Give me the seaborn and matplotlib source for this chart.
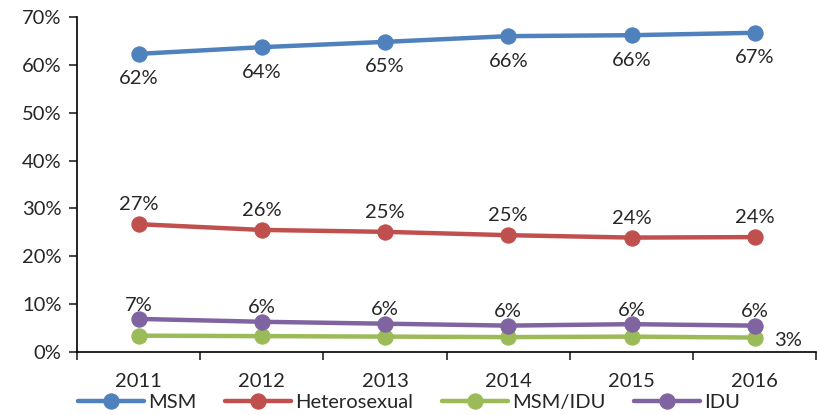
import numpy as np
import pandas as pd
import seaborn as sns
import matplotlib.pyplot as plt
from matplotlib.ticker import FuncFormatter

sns.set_style("white")
plt.rcParams['font.family'] = ['Lato', 'DejaVu Sans']

years = ["2011", "2012", "2013", "2014", "2015", "2016"]
msm = [62.3, 63.7, 64.8, 66.0, 66.2, 66.7]
hetero = [26.7, 25.5, 25.1, 24.4, 23.9, 24.0]
msm_idu = [3.4, 3.3, 3.2, 3.1, 3.2, 3.0]
idu = [6.9, 6.3, 5.9, 5.5, 5.8, 5.5]

labels_msm = ["62%", "64%", "65%", "66%", "66%", "67%"]
labels_het = ["27%", "26%", "25%", "25%", "24%", "24%"]
labels_idu = ["7%", "6%", "6%", "6%", "6%", "6%"]

series = [("MSM", msm, "#4F81BD"),
          ("Heterosexual", hetero, "#C0504D"),
          ("MSM/IDU", msm_idu, "#9BBB59"),
          ("IDU", idu, "#8064A2")]

fig = plt.figure(figsize=(8.17, 4.15), dpi=100)
ax = fig.add_axes([0.0942, 0.152, 0.905, 0.807])

x = np.arange(len(years))
for name, vals, col in series:
    sns.lineplot(x=x, y=vals, ax=ax, color=col, linewidth=3.2, marker="o",
                 markersize=11, markeredgecolor=col, label=name)

fs = 14.5
for i in x:
    ax.annotate(labels_msm[i], (i, msm[i]), xytext=(0, -18), textcoords="offset points",
                ha="center", va="center", fontsize=fs)
    ax.annotate(labels_het[i], (i, hetero[i]), xytext=(0, 14), textcoords="offset points",
                ha="center", va="center", fontsize=fs)
    ax.annotate(labels_idu[i], (i, idu[i]), xytext=(0, 10), textcoords="offset points",
                ha="center", va="center", fontsize=fs)
ax.annotate("3%", (5, msm_idu[5]), xytext=(24, -2), textcoords="offset points",
            ha="center", va="center", fontsize=fs)

ax.set_xlim(-0.5, 5.5)
ax.set_ylim(0, 70)
ax.set_yticks(np.arange(0, 71, 10))
ax.yaxis.set_major_formatter(FuncFormatter(lambda v, p: f"{v:.0f}%"))
ax.set_xticks(x)
ax.set_xticklabels(years)
ax.set_xticks(np.arange(-0.5, 6, 1), minor=True)
ax.tick_params(axis="x", which="major", length=0, labelsize=fs, pad=15)
ax.tick_params(axis="x", which="minor", length=6, width=1.2, direction="out", bottom=True)
ax.tick_params(axis="y", length=6, width=1.2, direction="out", left=True, labelsize=fs, pad=5)

for s in ["top", "right"]:
    ax.spines[s].set_visible(False)
for s in ["left", "bottom"]:
    ax.spines[s].set_color("black")
    ax.spines[s].set_linewidth(1.2)

ax.set_xlabel("")
ax.set_ylabel("")
ax.legend(loc="upper center", bbox_to_anchor=(0.449, -0.125), ncol=4, frameon=False,
          fontsize=fs, handlelength=3.3, handletextpad=0.2, columnspacing=1.4,
          borderpad=0, borderaxespad=0)

fig.savefig("out.png", dpi=100)
